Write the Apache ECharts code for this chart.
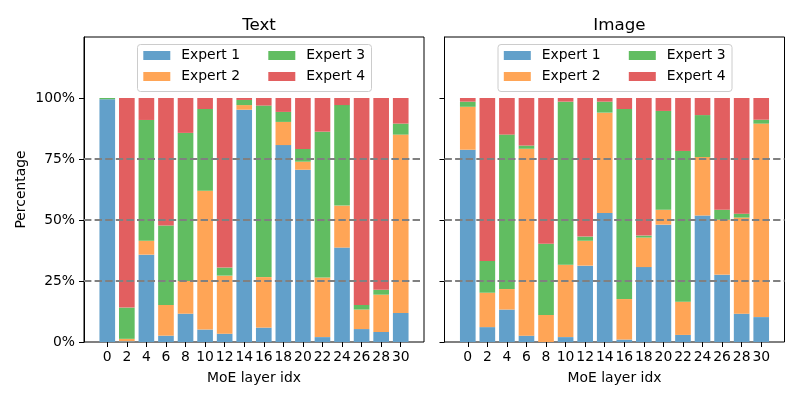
<!DOCTYPE html>
<html>
<head>
<meta charset="utf-8">
<script src="https://cdn.jsdelivr.net/npm/echarts@6/dist/echarts.min.js"></script>
<style>
html,body{margin:0;padding:0;background:#fff;}
#main{width:800px;height:400px;}
</style>
</head>
<body>
<div id="main"></div>
<script>
// ---- data ----
var layers = ['0','2','4','6','8','10','12','14','16','18','20','22','24','26','28','30'];
var expertNames = ['Expert 1','Expert 2','Expert 3','Expert 4'];
var yTicks = [0, 25, 50, 75, 100];
var refLines = [25, 50, 75];

// Text panel (percent per expert)
var textE1 = [99.5, 0.3, 35.8, 2.6, 11.6, 5.1, 3.4, 95.2, 5.9, 80.7, 70.6, 2.0, 38.7, 5.3, 4.1, 11.9];
var textE2 = [0.0, 1.0, 5.7, 12.6, 13.4, 56.9, 23.8, 1.9, 20.7, 9.5, 3.3, 24.4, 17.2, 8.0, 15.3, 73.1];
var textE3 = [0.5, 12.8, 49.5, 32.5, 60.7, 33.5, 3.3, 2.1, 70.3, 4.1, 5.2, 59.8, 41.2, 1.9, 2.0, 4.5];
var textE4 = [0.0, 85.9, 9.0, 52.3, 14.3, 4.5, 69.5, 0.8, 3.1, 5.7, 20.9, 13.8, 2.9, 84.8, 78.6, 10.5];

// Image panel (percent per expert)
var imageE1 = [78.8, 6.1, 13.3, 2.6, 0.0, 2.0, 31.3, 52.9, 1.0, 30.7, 48.1, 2.9, 51.8, 27.6, 11.6, 10.2];
var imageE2 = [17.6, 14.1, 8.4, 76.6, 11.1, 29.7, 10.2, 41.1, 16.6, 12.1, 6.1, 13.6, 24.0, 22.5, 39.4, 79.3];
var imageE3 = [2.1, 13.0, 63.3, 1.3, 29.2, 66.8, 1.7, 4.5, 77.9, 0.8, 40.5, 61.8, 17.2, 4.1, 1.6, 1.6];
var imageE4 = [1.5, 66.8, 15.0, 19.5, 59.7, 1.5, 56.8, 1.5, 4.5, 56.4, 5.3, 21.7, 7.0, 45.8, 47.4, 8.9];

var panels = [
  {title: 'Text', data: [textE1, textE2, textE3, textE4]},
  {title: 'Image', data: [imageE1, imageE2, imageE3, imageE4]}
];

// ---- styling ----
var colors = ['#62a0ca', '#ffa556', '#61bd61', '#e25f60'];
var FONT = 'DejaVu Sans';
var FS = 13.9;
var frameLefts = [84, 444.5];
var frameW = 340, plotTop = 37, plotH = 305;
var unit = frameW / 17.38;       // px per category
var innerOff = (1.19 - 0.5) * unit;
var innerW = 16 * unit;
var yMax = 125;

var grids = [], xAxes = [], yAxes = [], series = [], titles = [], legends = [], graphics = [];

panels.forEach(function (p, pi) {
  var L = frameLefts[pi];
  var gFrame = pi * 2, gData = pi * 2 + 1;
  grids.push({left: L, top: plotTop, width: frameW, height: plotH, show: true, borderColor: '#000', borderWidth: 1, backgroundColor: 'transparent'});
  grids.push({left: L + innerOff, top: plotTop, width: innerW, height: plotH});

  xAxes.push({type: 'value', gridIndex: gFrame, min: 0, max: 1, show: false});
  xAxes.push({
    type: 'category', gridIndex: gData, data: layers,
    axisLine: {show: false},
    axisTick: {show: true, alignWithLabel: true, length: 5, lineStyle: {color: '#000', width: 1}},
    axisLabel: {color: '#000', fontSize: FS, fontFamily: FONT, margin: 8, interval: 0},
    name: 'MoE layer idx', nameLocation: 'middle', nameGap: 29,
    nameTextStyle: {color: '#000', fontSize: FS, fontFamily: FONT}
  });

  var yFrame = {
    type: 'value', gridIndex: gFrame, min: 0, max: yMax, interval: 25,
    axisLine: {show: true, lineStyle: {color: '#000', width: 1}},
    axisTick: {show: true, length: 5, customValues: yTicks, lineStyle: {color: '#000', width: 1}},
    axisLabel: {show: pi === 0, customValues: yTicks, color: '#000', fontSize: FS, fontFamily: FONT, margin: 9,
      formatter: function (v) { return v + '%'; }},
    splitLine: {show: false}
  };
  if (pi === 0) {
    yFrame.name = 'Percentage';
    yFrame.nameLocation = 'middle';
    yFrame.nameGap = 56;
    yFrame.nameTextStyle = {color: '#000', fontSize: FS, fontFamily: FONT};
  }
  yAxes.push(yFrame);
  yAxes.push({type: 'value', gridIndex: gData, min: 0, max: yMax, show: false});

  p.data.forEach(function (vals, k) {
    series.push({
      type: 'bar', name: expertNames[k], stack: 'p' + pi,
      xAxisIndex: gData, yAxisIndex: gData,
      barWidth: '80%', itemStyle: {color: colors[k]},
      data: vals, silent: true, z: 2
    });
  });

  series.push({
    type: 'line', xAxisIndex: gFrame, yAxisIndex: gFrame, data: [], z: 10, silent: true,
    markLine: {
      silent: true, symbol: 'none', label: {show: false}, animation: false,
      lineStyle: {color: '#808080', type: [7.4, 3.2], width: 2},
      data: refLines.map(function (v) { return {yAxis: v}; })
    }
  });

  titles.push({
    text: p.title, left: L + frameW / 2, top: 12, textAlign: 'center',
    textStyle: {color: '#000', fontSize: 16.7, fontWeight: 'normal', fontFamily: FONT}
  });

  var boxL = L + 53;
  graphics.push({
    type: 'rect', left: boxL, top: 44, z: 20,
    shape: {width: 234, height: 47, r: 3},
    style: {fill: 'rgba(255,255,255,0.8)', stroke: '#cccccc', lineWidth: 1}
  });
  var cols = [boxL + 6.3, boxL + 131.3];
  var rows = [48.5, 69.5];
  // column-wise fill: col1 = Expert 1, Expert 2; col2 = Expert 3, Expert 4
  expertNames.forEach(function (nm, k) {
    legends.push({
      data: [nm], left: cols[Math.floor(k / 2)], top: rows[k % 2], padding: 0,
      icon: 'rect', itemWidth: 27, itemHeight: 9, selectedMode: false, z: 30,
      textStyle: {color: '#000', fontSize: FS, fontFamily: FONT, padding: [0, 0, 0, 6]}
    });
  });
});

var chart = echarts.init(document.getElementById('main'));
chart.setOption({
  animation: false,
  backgroundColor: '#fff',
  color: colors,
  title: titles,
  legend: legends,
  grid: grids,
  xAxis: xAxes,
  yAxis: yAxes,
  series: series,
  graphic: graphics
});
</script>
</body>
</html>
